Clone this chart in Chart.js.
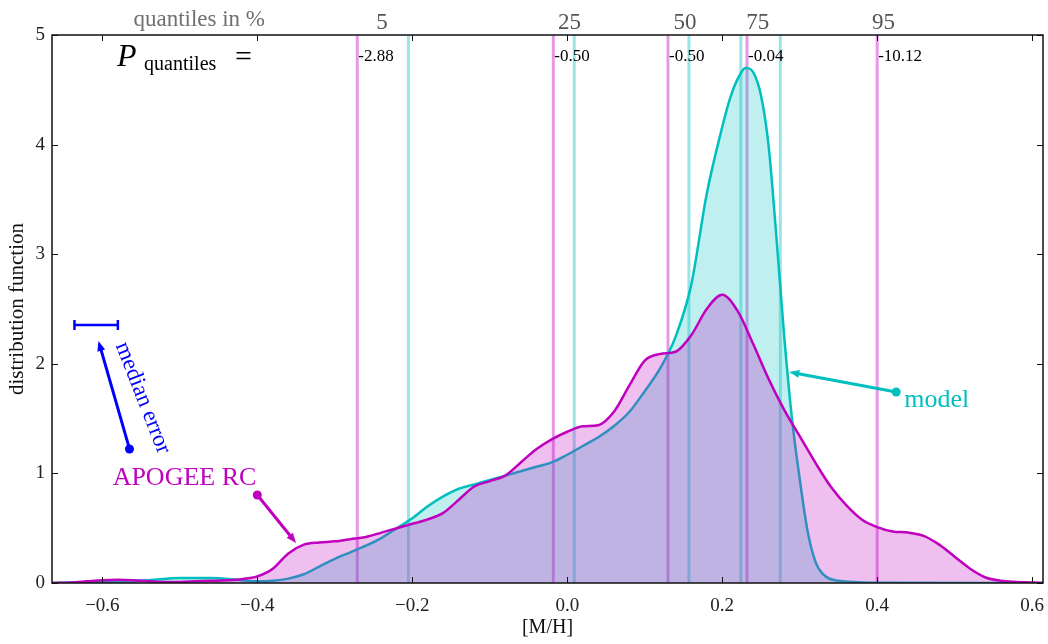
<!DOCTYPE html>
<html>
<head>
<meta charset="utf-8">
<script src="https://cdn.jsdelivr.net/npm/chart.js@4"></script>
<style>
  html, body { margin: 0; padding: 0; background: #fff; }
  #wrap { width: 1048px; height: 644px; position: relative; }
</style>
</head>
<body>
<div id="wrap"><canvas id="mdfChart"></canvas></div>
<script>
// metallicity distribution, APOGEE red clump vs model
const apogeeX = [-0.665, -0.64, -0.62, -0.60, -0.58, -0.56, -0.54, -0.52, -0.50, -0.48, -0.46, -0.44, -0.42,
  -0.40, -0.38, -0.36, -0.34, -0.32, -0.30, -0.28, -0.26, -0.24, -0.22, -0.20, -0.18, -0.16, -0.14, -0.12,
  -0.10, -0.08, -0.06, -0.04, -0.02, 0.00, 0.02, 0.04, 0.06, 0.08, 0.10, 0.12, 0.14, 0.16, 0.18, 0.20, 0.22,
  0.24, 0.26, 0.28, 0.30, 0.32, 0.34, 0.36, 0.38, 0.40, 0.42, 0.44, 0.46, 0.48, 0.50, 0.52, 0.54, 0.56, 0.58,
  0.60, 0.614];
const apogeeY = [0.00, 0.005, 0.015, 0.025, 0.03, 0.025, 0.015, 0.01, 0.01, 0.015, 0.02, 0.025, 0.035,
  0.06, 0.13, 0.27, 0.35, 0.37, 0.38, 0.40, 0.42, 0.46, 0.50, 0.54, 0.58, 0.64, 0.76, 0.88,
  0.93, 0.98, 1.10, 1.22, 1.31, 1.38, 1.43, 1.44, 1.56, 1.80, 2.03, 2.09, 2.11, 2.26, 2.50, 2.63, 2.48,
  2.18, 1.86, 1.58, 1.34, 1.10, 0.88, 0.71, 0.58, 0.51, 0.47, 0.46, 0.43, 0.35, 0.24, 0.13, 0.05, 0.02, 0.01,
  0.005, 0.0];

const modelX = [-0.665, -0.62, -0.58, -0.54, -0.50, -0.46, -0.42, -0.40, -0.38, -0.36, -0.34, -0.32, -0.30,
  -0.28, -0.26, -0.24, -0.22, -0.20, -0.18, -0.16, -0.14, -0.12, -0.10, -0.08, -0.06, -0.04, -0.02, 0.00,
  0.02, 0.04, 0.06, 0.08, 0.10, 0.12, 0.14, 0.16, 0.18, 0.20, 0.21, 0.22, 0.23, 0.24, 0.25, 0.26, 0.27,
  0.28, 0.29, 0.30, 0.31, 0.32, 0.33, 0.35, 0.40, 0.614];
const modelY = [0.0, 0.005, 0.01, 0.025, 0.045, 0.045, 0.025, 0.015, 0.02, 0.04, 0.08, 0.15, 0.22,
  0.28, 0.34, 0.41, 0.50, 0.59, 0.70, 0.79, 0.86, 0.90, 0.94, 0.98, 1.02, 1.06, 1.10, 1.17,
  1.25, 1.33, 1.43, 1.56, 1.75, 1.96, 2.25, 2.72, 3.55, 4.16, 4.42, 4.60, 4.70, 4.66, 4.45, 3.98, 3.15,
  2.25, 1.50, 0.95, 0.48, 0.20, 0.08, 0.02, 0.003, 0.0];

// quantile positions (5, 25, 50, 75, 95 %)
const quantileLabels = ['5', '25', '50', '75', '95'];
const quantileLabelX = [-0.239, 0.003, 0.152, 0.246, 0.408];
const apogeeQuantiles = [-0.271, -0.018, 0.130, 0.232, 0.400];
const modelQuantiles = [-0.205, 0.009, 0.157, 0.224, 0.275];
const pValues = ['-2.88', '-0.50', '-0.50', '-0.04', '-10.12'];

const xTicks = [-0.6, -0.4, -0.2, 0.0, 0.2, 0.4, 0.6];
const yTicks = [0, 1, 2, 3, 4, 5];
const medianError = 0.056;

const MAGENTA = '#bf00bf';
const CYAN = '#00bfbf';
const SERIF = '"Liberation Serif", "DejaVu Serif", serif';

function arrow(ctx, x0, y0, x1, y1, color) {
  const ang = Math.atan2(y1 - y0, x1 - x0);
  const head = 10;
  ctx.strokeStyle = color;
  ctx.fillStyle = color;
  ctx.lineWidth = 3;
  ctx.beginPath();
  ctx.moveTo(x0, y0);
  ctx.lineTo(x1 - Math.cos(ang) * head * 0.8, y1 - Math.sin(ang) * head * 0.8);
  ctx.stroke();
  ctx.beginPath();
  ctx.moveTo(x1, y1);
  ctx.lineTo(x1 - head * Math.cos(ang) + 4 * Math.sin(ang), y1 - head * Math.sin(ang) - 4 * Math.cos(ang));
  ctx.lineTo(x1 - head * Math.cos(ang) - 4 * Math.sin(ang), y1 - head * Math.sin(ang) + 4 * Math.cos(ang));
  ctx.closePath();
  ctx.fill();
  ctx.beginPath();
  ctx.arc(x0, y0, 4.5, 0, Math.PI * 2);
  ctx.fill();
}

const annotate = {
  id: 'annotate',
  beforeDatasetsDraw(chart) {
    const { ctx, chartArea: a, scales: { x } } = chart;
    ctx.save();
    ctx.lineWidth = 3;
    const lines = (qs, color) => qs.forEach(q => {
      const px = x.getPixelForValue(q);
      ctx.strokeStyle = color;
      ctx.beginPath();
      ctx.moveTo(px, a.top);
      ctx.lineTo(px, a.bottom);
      ctx.stroke();
    });
    lines(apogeeQuantiles, 'rgba(191,0,191,0.4)');
    lines(modelQuantiles, 'rgba(0,191,191,0.4)');
    ctx.restore();
  },
  afterDraw(chart) {
    const { ctx, chartArea: a, scales: { x, y } } = chart;
    const px = v => x.getPixelForValue(v);
    const py = v => y.getPixelForValue(v);
    ctx.save();

    // frame and inward ticks
    ctx.strokeStyle = '#111';
    ctx.lineWidth = 1.5;
    ctx.strokeRect(a.left, a.top, a.right - a.left, a.bottom - a.top);
    ctx.lineWidth = 1;
    ctx.beginPath();
    xTicks.forEach(t => {
      const X = Math.round(px(t)) + 0.5;
      ctx.moveTo(X, a.bottom); ctx.lineTo(X, a.bottom - 6);
      ctx.moveTo(X, a.top); ctx.lineTo(X, a.top + 6);
    });
    yTicks.forEach(t => {
      const Y = Math.round(py(t)) + 0.5;
      ctx.moveTo(a.left, Y); ctx.lineTo(a.left + 6, Y);
      ctx.moveTo(a.right, Y); ctx.lineTo(a.right - 6, Y);
    });
    ctx.stroke();

    // quantile header
    ctx.textBaseline = 'middle';
    ctx.textAlign = 'center';
    ctx.fillStyle = '#707070';
    ctx.font = '23px ' + SERIF;
    ctx.fillText('quantiles in %', px(-0.475), 20);
    ctx.fillStyle = '#555';
    quantileLabels.forEach((l, i) => ctx.fillText(l, px(quantileLabelX[i]), 23));

    // P_quantiles =
    ctx.textAlign = 'left';
    ctx.textBaseline = 'alphabetic';
    ctx.fillStyle = '#000';
    const p0 = px(-0.581);
    ctx.font = 'italic 32px ' + SERIF;
    ctx.fillText('P', p0, 66);
    ctx.font = '20px ' + SERIF;
    ctx.fillText('quantiles', p0 + 27, 70);
    ctx.font = '30px ' + SERIF;
    ctx.fillText('=', p0 + 118, 66);

    // p-values beside the APOGEE quantile lines
    ctx.textBaseline = 'middle';
    ctx.font = '17px ' + SERIF;
    pValues.forEach((v, i) => ctx.fillText(v, px(apogeeQuantiles[i]) + 1, py(4.80)));

    // labels with arrows
    ctx.textAlign = 'center';
    ctx.fillStyle = MAGENTA;
    ctx.font = '26px ' + SERIF;
    ctx.fillText('APOGEE RC', px(-0.494), py(0.958));
    arrow(ctx, px(-0.400), py(0.803), px(-0.350), py(0.365), MAGENTA);

    ctx.textAlign = 'left';
    ctx.fillStyle = CYAN;
    ctx.fillText('model', px(0.435), py(1.67));
    arrow(ctx, px(0.4245), py(1.743), px(0.2865), py(1.925), CYAN);

    // median error bar
    const eb = py(2.354);
    ctx.strokeStyle = 'blue';
    ctx.lineWidth = 2.5;
    ctx.beginPath();
    ctx.moveTo(px(-0.636), eb); ctx.lineTo(px(-0.636 + medianError), eb);
    ctx.moveTo(px(-0.636), eb - 5); ctx.lineTo(px(-0.636), eb + 5);
    ctx.moveTo(px(-0.636 + medianError), eb - 5); ctx.lineTo(px(-0.636 + medianError), eb + 5);
    ctx.stroke();
    arrow(ctx, px(-0.565), py(1.223), px(-0.605), py(2.208), 'blue');

    ctx.save();
    ctx.translate(px(-0.548), py(1.688));
    ctx.rotate(68.6 * Math.PI / 180);
    ctx.textAlign = 'center';
    ctx.fillStyle = 'blue';
    ctx.font = '23px ' + SERIF;
    ctx.fillText('median error', 0, 0);
    ctx.restore();

    ctx.restore();
  }
};

const ctx = document.getElementById('mdfChart').getContext('2d');
new Chart(ctx, {
  type: 'line',
  data: {
    datasets: [{
      label: 'APOGEE RC',
      data: apogeeX.map((v, i) => ({ x: v, y: apogeeY[i] })),
      borderColor: MAGENTA,
      backgroundColor: 'rgba(191,0,191,0.25)',
      borderWidth: 2.5,
      pointRadius: 0,
      fill: 'origin',
      cubicInterpolationMode: 'monotone'
    }, {
      label: 'model',
      data: modelX.map((v, i) => ({ x: v, y: modelY[i] })),
      borderColor: CYAN,
      backgroundColor: 'rgba(0,191,191,0.25)',
      borderWidth: 2.5,
      pointRadius: 0,
      fill: 'origin',
      cubicInterpolationMode: 'monotone'
    }]
  },
  options: {
    responsive: true,
    maintainAspectRatio: false,
    animation: false,
    layout: { padding: { top: 35, right: 5, left: 0, bottom: 0 } },
    plugins: { legend: { display: false }, tooltip: { enabled: false } },
    scales: {
      x: {
        type: 'linear',
        min: -0.665,
        max: 0.614,
        afterBuildTicks: s => { s.ticks = xTicks.map(v => ({ value: v })); },
        afterFit: s => { s.height = 61; s.paddingLeft = 0; s.paddingRight = 0; },
        grid: { drawOnChartArea: false, drawTicks: false, color: 'transparent' },
        border: { display: false },
        ticks: {
          padding: 12,
          maxRotation: 0,
          autoSkip: false,
          color: '#222',
          font: { family: SERIF, size: 19 },
          callback: v => (v < 0 ? '\u2212' : '') + Math.abs(v).toFixed(1)
        },
        title: { display: true, text: '[M/H]', color: '#111', font: { family: SERIF, size: 20 }, padding: { top: 0, bottom: 4 } }
      },
      y: {
        min: 0,
        max: 5,
        afterBuildTicks: s => { s.ticks = yTicks.map(v => ({ value: v })); },
        afterFit: s => { s.width = 52; s.paddingTop = 0; s.paddingBottom = 0; },
        grid: { drawOnChartArea: false, drawTicks: false, color: 'transparent' },
        border: { display: false },
        ticks: {
          padding: 7,
          color: '#222',
          font: { family: SERIF, size: 19 },
          callback: v => String(v)
        },
        title: { display: true, text: 'distribution function', color: '#111', font: { family: SERIF, size: 21 }, padding: { top: 5, bottom: 0 } }
      }
    }
  },
  plugins: [annotate]
});
</script>
</body>
</html>
